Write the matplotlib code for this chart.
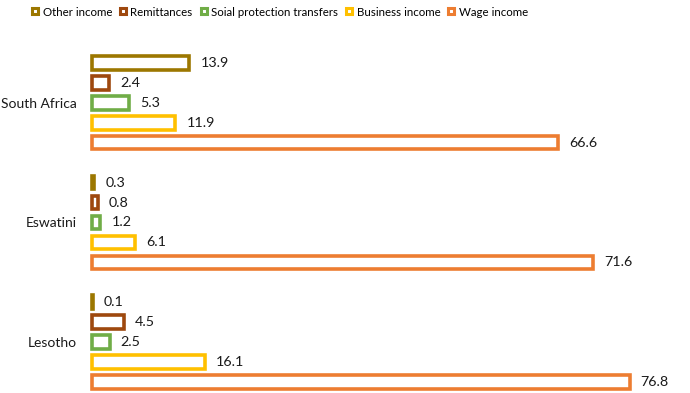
import matplotlib
matplotlib.use("Agg")
import matplotlib.pyplot as plt
from matplotlib.lines import Line2D

countries = ["South Africa", "Eswatini", "Lesotho"]
series = ["Other income", "Remittances", "Soial protection transfers", "Business income", "Wage income"]
other_income = [13.9, 0.3, 0.1]
remittances = [2.4, 0.8, 4.5]
social_protection = [5.3, 1.2, 2.5]
business_income = [11.9, 6.1, 16.1]
wage_income = [66.6, 71.6, 76.8]
colors = ["#9C7700", "#9E480E", "#70AD47", "#FFC000", "#ED7D31"]

values = [other_income, remittances, social_protection, business_income, wage_income]

plt.rcParams['font.family'] = ['Lato', 'DejaVu Sans']
fig = plt.figure(figsize=(6.9, 3.93), dpi=100)
ax = fig.add_axes([92/690, 1/393, 598/690, 347/393])

for s, (vals, col) in enumerate(zip(values, colors)):
    ys = [g * 6 + s for g in range(len(countries))]
    ax.barh(ys, vals, height=0.68, facecolor="white", edgecolor=col,
            linewidth=2.6, clip_on=False)
    for y, v in zip(ys, vals):
        ax.annotate(f"{v:.1f}", (v, y), xytext=(8, 0), textcoords="offset points",
                    va="center", ha="left", fontsize=10.3, color="#1a1a1a")

ax.set_xlim(0, 598/7.0)
ax.set_ylim(16.5, -0.9)
ax.set_yticks([g * 6 + 2 for g in range(len(countries))])
ax.set_yticklabels(countries, fontsize=10, color="#1a1a1a")
ax.tick_params(axis="y", length=0, pad=11)
ax.set_xticks([])
for sp in ax.spines.values():
    sp.set_visible(False)

handles = [Line2D([], [], marker="s", linestyle="none", markersize=4.3,
                  markerfacecolor="white", markeredgecolor=c, markeredgewidth=2.2)
           for c in colors]
fig.legend(handles, series, loc="center left", bbox_to_anchor=(31/690, 1 - 12/393),
           ncol=5, frameon=False, fontsize=8.3, handlelength=0.7, handletextpad=0.3,
           columnspacing=0.6, borderpad=0, borderaxespad=0)

fig.savefig("out.png", dpi=100)
